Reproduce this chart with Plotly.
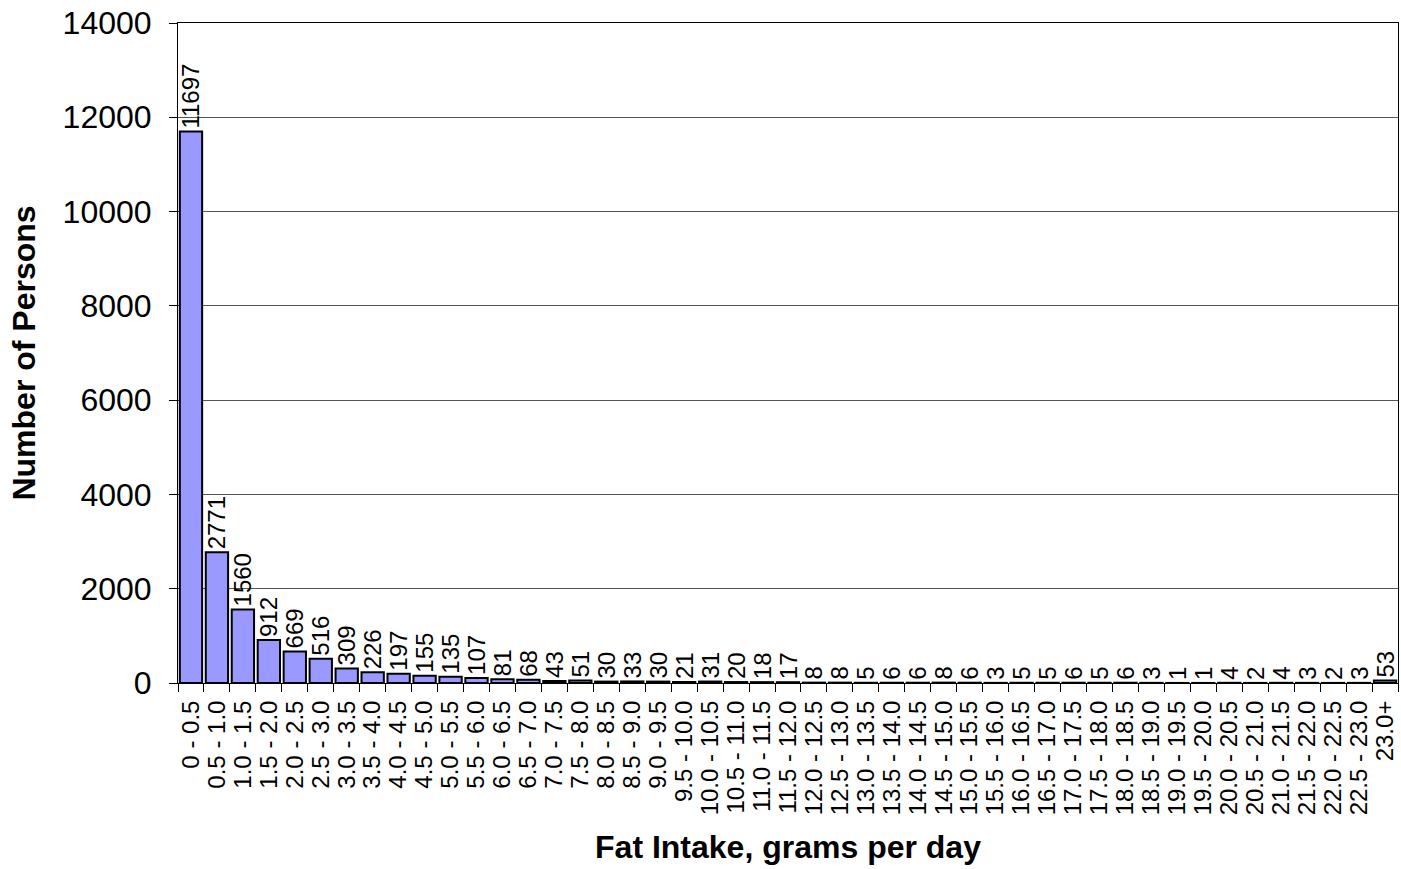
import plotly.graph_objects as go

categories = [
    "0 - 0.5", "0.5 - 1.0", "1.0 - 1.5", "1.5 - 2.0", "2.0 - 2.5", "2.5 - 3.0",
    "3.0 - 3.5", "3.5 - 4.0", "4.0 - 4.5", "4.5 - 5.0", "5.0 - 5.5", "5.5 - 6.0",
    "6.0 - 6.5", "6.5 - 7.0", "7.0 - 7.5", "7.5 - 8.0", "8.0 - 8.5", "8.5 - 9.0",
    "9.0 - 9.5", "9.5 - 10.0", "10.0 - 10.5", "10.5 - 11.0", "11.0 - 11.5",
    "11.5 - 12.0", "12.0 - 12.5", "12.5 - 13.0", "13.0 - 13.5", "13.5 - 14.0",
    "14.0 - 14.5", "14.5 - 15.0", "15.0 - 15.5", "15.5 - 16.0", "16.0 - 16.5",
    "16.5 - 17.0", "17.0 - 17.5", "17.5 - 18.0", "18.0 - 18.5", "18.5 - 19.0",
    "19.0 - 19.5", "19.5 - 20.0", "20.0 - 20.5", "20.5 - 21.0", "21.0 - 21.5",
    "21.5 - 22.0", "22.0 - 22.5", "22.5 - 23.0", "23.0+",
]
persons = [
    11697, 2771, 1560, 912, 669, 516, 309, 226, 197, 155, 135, 107, 81, 68, 43,
    51, 30, 33, 30, 21, 31, 20, 18, 17, 8, 8, 5, 6, 6, 8, 6, 3, 5, 5, 6, 5, 6,
    3, 1, 1, 4, 2, 4, 3, 2, 3, 53,
]
y_ticks = [0, 2000, 4000, 6000, 8000, 10000, 12000, 14000]

FONT = "Liberation Sans, Arial, sans-serif"

fig = go.Figure(
    go.Bar(
        x=categories,
        y=persons,
        text=[str(v) for v in persons],
        textposition="outside",
        textangle=-90,
        constraintext="none",
        cliponaxis=False,
        textfont=dict(family=FONT, size=24, color="black"),
        marker=dict(color="#9999FF", line=dict(color="black", width=2)),
    )
)

fig.update_layout(
    width=1401,
    height=869,
    margin=dict(l=178, r=3, t=23, b=186, autoexpand=False),
    paper_bgcolor="white",
    plot_bgcolor="white",
    bargap=0.14,
    showlegend=False,
    font=dict(family=FONT, color="black"),
)

fig.update_xaxes(
    type="category",
    tickmode="array",
    tickvals=categories,
    ticktext=categories,
    tickson="boundaries",
    automargin=False,
    ticks="outside",
    ticklen=8,
    tickcolor="black",
    tickwidth=1,
    tickangle=-90,
    tickfont=dict(family=FONT, size=24, color="black"),
    ticklabelstandoff=7,
    showline=True,
    linecolor="black",
    linewidth=1,
    mirror=True,
    showgrid=False,
    title=dict(
        text="<b>Fat Intake, grams per day</b>",
        font=dict(family=FONT, size=32, color="black"),
        standoff=21,
    ),
)

fig.update_yaxes(
    range=[0, 14000],
    tickvals=y_ticks,
    tickformat="d",
    automargin=False,
    ticks="outside",
    ticklen=8,
    tickcolor="black",
    tickwidth=1,
    tickfont=dict(family=FONT, size=32, color="black"),
    ticklabelstandoff=11,
    showline=True,
    linecolor="black",
    linewidth=1,
    mirror=True,
    showgrid=True,
    gridcolor="#555555",
    gridwidth=1.2,
    zeroline=False,
    title=dict(
        text="<b>Number of Persons</b>",
        font=dict(family=FONT, size=32, color="black"),
        standoff=17,
    ),
)

fig.write_html(
    "out.html",
    config={"displayModeBar": False},
    post_script="document.body.style.margin='0';document.body.style.padding='0';",
)
